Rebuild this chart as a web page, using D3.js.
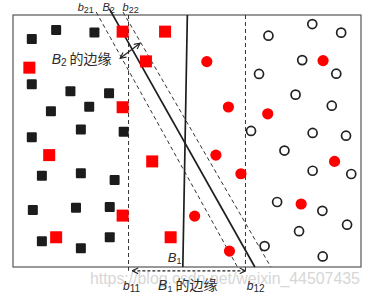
<!DOCTYPE html>
<meta charset="utf-8">
<style>

body {
  margin: 0;
  background: #ffffff;
}

svg {
  display: block;
}

rect.frame {
  fill: none;
  stroke: #555;
  stroke-width: 1.2;
}

line.solid {
  stroke: #1e1e1e;
  stroke-width: 1.7;
}

line.dashed {
  stroke: #333;
  stroke-width: 1;
  stroke-dasharray: 4 3;
}

line.arrow {
  stroke: #222;
  stroke-width: 1.2;
}

line.arrow.dashed {
  stroke-dasharray: 3 2;
}

.black-sq {
  fill: #1c1c1c;
}

.red-sq {
  fill: #ff0000;
}

.red-ci {
  fill: #ff0000;
}

.open-ci {
  fill: #ffffff;
  stroke: #222;
  stroke-width: 1.7;
}

text {
  fill: #2a2a2a;
  font-family: 'Liberation Sans', Arial, sans-serif;
}

text .it {
  font-style: italic;
}

text .cjk {
  font-family: 'Noto Sans CJK SC', sans-serif;
}

text.watermark {
  fill: #d6d6d6;
  font-size: 16px;
}

</style>
<body>
<svg id="chart" width="371" height="298"></svg>

<script src="https://d3js.org/d3.v7.min.js"></script>
<script>

    // feature space 0..100 on both axes (y up)
    const blackSquares = [
      [5.4, 90.5], [12.4, 94.0], [23.4, 93.1], [5.4, 72.5], [16.5, 69.7],
      [27.6, 68.9], [10.9, 61.8], [21.9, 63.6], [19.5, 54.6], [31.8, 53.7],
      [5.4, 51.5], [8.3, 36.2], [19.5, 37.2], [29.2, 34.5], [5.7, 22.6],
      [18.1, 23.5], [27.8, 23.8], [8.3, 10.2], [19.5, 7.4], [27.8, 11.8]
    ]

    const redSquares = [
      [31.5, 93.4], [43.7, 93.4], [4.7, 79.1], [38.2, 81.6], [31.5, 63.4],
      [10.4, 44.4], [40.0, 41.9], [31.5, 20.4], [12.4, 11.8], [45.3, 11.8]
    ]

    const redCircles = [
      [55.7, 81.5], [61.9, 63.5], [73.2, 60.8], [89.1, 81.9], [58.3, 44.4],
      [65.5, 37.0], [92.4, 41.9], [82.8, 25.0], [52.2, 20.2], [62.2, 6.3]
    ]

    const openCircles = [
      [86.0, 96.4], [94.3, 93.0], [73.4, 91.8], [83.1, 82.1], [70.7, 76.6],
      [92.9, 76.7], [81.2, 68.4], [91.6, 64.0], [68.4, 54.0], [86.1, 53.2],
      [95.7, 52.1], [78.0, 46.2], [86.1, 38.2], [97.2, 36.9], [75.9, 25.8],
      [88.9, 22.3], [96.0, 16.8], [82.2, 14.2], [72.3, 8.3], [89.0, 4.2]
    ]

    // decision boundaries: [x1, y1, x2, y2]
    const solidLines = [
      [50.1, 100, 48.8, 0],      // B1
      [27.7, 102.4, 69.5, 0]     // B2
    ]
    const dashedLines = [
      [33.2, 100, 33.2, -1.5],   // b11
      [66.8, 100, 66.8, -1.5],   // b12
      [23.9, 101.2, 64.5, 0],    // b21
      [31.6, 101.2, 74.1, 0]     // b22
    ]

    // margin arrows
    const marginB2 = [30.8, 82.8, 36.5, 88.8]
    const marginB1 = [34.3, -1.5, 66.8, -1.5]

    // labels: [main, subscript, suffix, x, y, size, subSize]
    const labels = [
      ['b', '21', '', 18.6, 101.6, 11, 9],
      ['B', '2', '', 25.7, 101.6, 11, 9],
      ['b', '22', '', 31.5, 101.6, 11, 9],
      ['B', '2', '的边缘', 11.1, 80.4, 14, 10],
      ['B', '1', '', 44.5, 2.0, 13, 9],
      ['b', '11', '', 31.6, -9.1, 12, 10],
      ['B', '1', '的边缘', 41.7, -9.1, 14, 9],
      ['b', '12', '', 67.2, -9.1, 12, 10]
    ]

    const svg = d3.select('#chart')

    const x = d3.scaleLinear().domain([0, 100]).range([13, 361])
    const y = d3.scaleLinear().domain([0, 100]).range([267, 15])

    const defs = svg.append('defs')
    defs.append('marker')
      .attr('id', 'head')
      .attr('viewBox', '0 0 10 10')
      .attr('refX', 9).attr('refY', 5)
      .attr('markerWidth', 6).attr('markerHeight', 6)
      .attr('orient', 'auto-start-reverse')
      .append('path')
      .attr('d', 'M1,1 L9,5 L1,9')
      .attr('fill', 'none')
      .attr('stroke', '#222')
      .attr('stroke-width', 1.6)

    svg.append('text')
      .attr('class', 'watermark')
      .attr('x', x(22.1))
      .attr('y', y(-6.7))
      .attr('textLength', 270)
      .attr('lengthAdjust', 'spacingAndGlyphs')
      .text('https://blog.csdn.net/weixin_44507435')

    svg.append('rect')
      .attr('class', 'frame')
      .attr('x', x(0))
      .attr('y', y(100))
      .attr('width', x(100) - x(0))
      .attr('height', y(0) - y(100))

    svg.selectAll('line.dashed.bound')
      .data(dashedLines)
      .enter()
      .append('line')
      .attr('class', 'dashed bound')
      .attr('x1', d => x(d[0])).attr('y1', d => y(d[1]))
      .attr('x2', d => x(d[2])).attr('y2', d => y(d[3]))

    svg.selectAll('line.solid')
      .data(solidLines)
      .enter()
      .append('line')
      .attr('class', 'solid')
      .attr('x1', d => x(d[0])).attr('y1', d => y(d[1]))
      .attr('x2', d => x(d[2])).attr('y2', d => y(d[3]))

    svg.append('line')
      .attr('class', 'arrow')
      .attr('x1', x(marginB2[0])).attr('y1', y(marginB2[1]))
      .attr('x2', x(marginB2[2])).attr('y2', y(marginB2[3]))
      .attr('marker-start', 'url(#head)')
      .attr('marker-end', 'url(#head)')

    svg.append('line')
      .attr('class', 'arrow dashed')
      .attr('x1', x(marginB1[0])).attr('y1', y(marginB1[1]))
      .attr('x2', x(marginB1[2])).attr('y2', y(marginB1[3]))
      .attr('marker-start', 'url(#head)')
      .attr('marker-end', 'url(#head)')

    svg.selectAll('rect.black-sq')
      .data(blackSquares)
      .enter()
      .append('rect')
      .attr('class', 'black-sq')
      .attr('x', d => x(d[0]) - 5)
      .attr('y', d => y(d[1]) - 5)
      .attr('width', 10)
      .attr('height', 10)
      .attr('rx', 1)

    svg.selectAll('rect.red-sq')
      .data(redSquares)
      .enter()
      .append('rect')
      .attr('class', 'red-sq')
      .attr('x', d => x(d[0]) - 6)
      .attr('y', d => y(d[1]) - 6)
      .attr('width', 12)
      .attr('height', 12)

    svg.selectAll('circle.red-ci')
      .data(redCircles)
      .enter()
      .append('circle')
      .attr('class', 'red-ci')
      .attr('cx', d => x(d[0]))
      .attr('cy', d => y(d[1]))
      .attr('r', 5.6)

    svg.selectAll('circle.open-ci')
      .data(openCircles)
      .enter()
      .append('circle')
      .attr('class', 'open-ci')
      .attr('cx', d => x(d[0]))
      .attr('cy', d => y(d[1]))
      .attr('r', 4.5)

    const lbl = svg.selectAll('text.lbl')
      .data(labels)
      .enter()
      .append('text')
      .attr('class', 'lbl')
      .attr('x', d => x(d[3]))
      .attr('y', d => y(d[4]))
      .style('font-size', d => d[5] + 'px')

    lbl.append('tspan')
      .attr('class', 'it')
      .text(d => d[0])

    lbl.append('tspan')
      .attr('dy', 2)
      .style('font-size', d => d[6] + 'px')
      .text(d => d[1])

    lbl.filter(d => d[2] !== '')
      .append('tspan')
      .attr('class', 'cjk')
      .attr('dx', 3)
      .attr('dy', -2)
      .text(d => d[2])

</script>
</body>
